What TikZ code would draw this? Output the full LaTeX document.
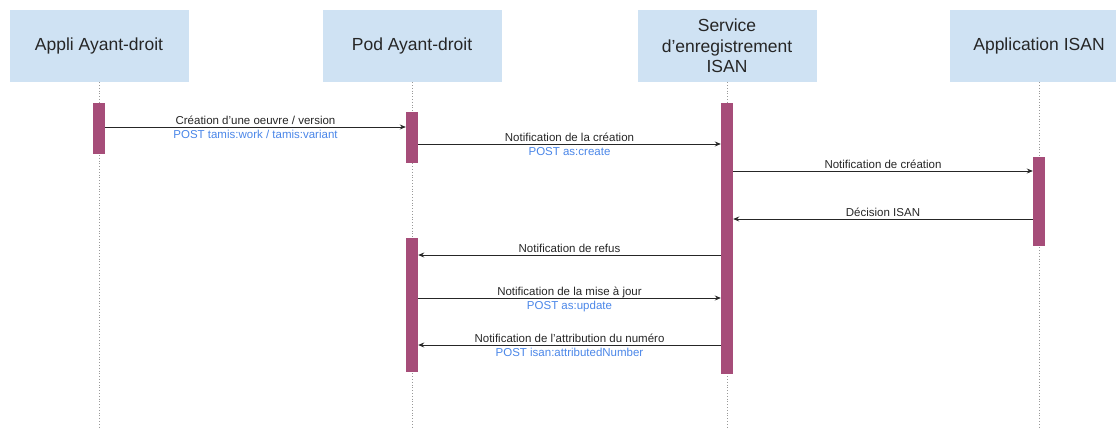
\documentclass[tikz,border=0pt]{standalone}
\usepackage{fontspec}
\setmainfont{Liberation Sans}
\usetikzlibrary{arrows.meta}
\definecolor{headblue}{HTML}{CFE2F3}
\definecolor{barpink}{HTML}{A64D79}
\definecolor{postblue}{HTML}{4A86E8}

\begin{document}
\begin{tikzpicture}[x=1pt,y=-1pt,
    actor/.style={fill=headblue, minimum width=179pt, minimum height=72pt, inner sep=0pt, align=center, font=\fontsize{17.5}{20.5}\selectfont, text=black!85},
    bar/.style={fill=barpink, minimum width=12pt, inner sep=0pt},
    life/.style={dotted, gray!80, line width=0.8pt},
    msg/.style={-{Stealth[length=6pt,width=5pt]}, line width=0.9pt, black!85},
    msgtxt/.style={anchor=base, yshift=3pt, inner sep=0pt, font=\fontsize{11.5}{13}\selectfont, text=black!85},
    posttxt/.style={anchor=base, yshift=-11.5pt, inner sep=0pt, font=\fontsize{11.5}{13}\selectfont, text=postblue}]
    \clip (0,0) rectangle (1116,429);
    % headers
    \node[actor] (appli) at (99,46) {Appli Ayant-droit};
    \node[actor] (pod) at (412,46) {Pod Ayant-droit};
    \node[actor] (service) at (727,46) {Service\\d'enregistrement\\ISAN};
    \node[actor] (isan) at (1039,46) {Application ISAN};
    % lifelines
    \draw[life] (appli.south) -- (appli.south |- 0,429);
    \draw[life] (pod.south) -- (pod.south |- 0,429);
    \draw[life] (service.south) -- (service.south |- 0,429);
    \draw[life] (isan.south) -- (isan.south |- 0,429);
    % activations
    \node[bar, minimum height=51pt] (appliA) at (99,128.5) {};
    \node[bar, minimum height=51pt] (podA) at (412,137.5) {};
    \node[bar, minimum height=271pt] (serviceA) at (727,238.5) {};
    \node[bar, minimum height=89pt] (isanA) at (1039,201.5) {};
    \node[bar, minimum height=134pt] (podB) at (412,305) {};
    % messages
    \draw[msg] (appliA.east |- 0,127) -- (podA.west |- 0,127)
        node[midway,msgtxt] {Création d'une oeuvre / version}
        node[midway,posttxt] {POST tamis:work / tamis:variant};
    \draw[msg] (podA.east |- 0,144) -- (serviceA.west |- 0,144)
        node[midway,msgtxt] {Notification de la création}
        node[midway,posttxt] {POST as:create};
    \draw[msg] (serviceA.east |- 0,171) -- (isanA.west |- 0,171)
        node[midway,msgtxt] {Notification de création};
    \draw[msg] (isanA.west |- 0,219) -- (serviceA.east |- 0,219)
        node[midway,msgtxt] {Décision ISAN};
    \draw[msg] (serviceA.west |- 0,255) -- (podB.east |- 0,255)
        node[midway,msgtxt] {Notification de refus};
    \draw[msg] (podB.east |- 0,298) -- (serviceA.west |- 0,298)
        node[midway,msgtxt] {Notification de la mise à jour}
        node[midway,posttxt] {POST as:update};
    \draw[msg] (serviceA.west |- 0,345) -- (podB.east |- 0,345)
        node[midway,msgtxt] {Notification de l'attribution du numéro}
        node[midway,posttxt] {POST isan:attributedNumber};
\end{tikzpicture}
\end{document}
